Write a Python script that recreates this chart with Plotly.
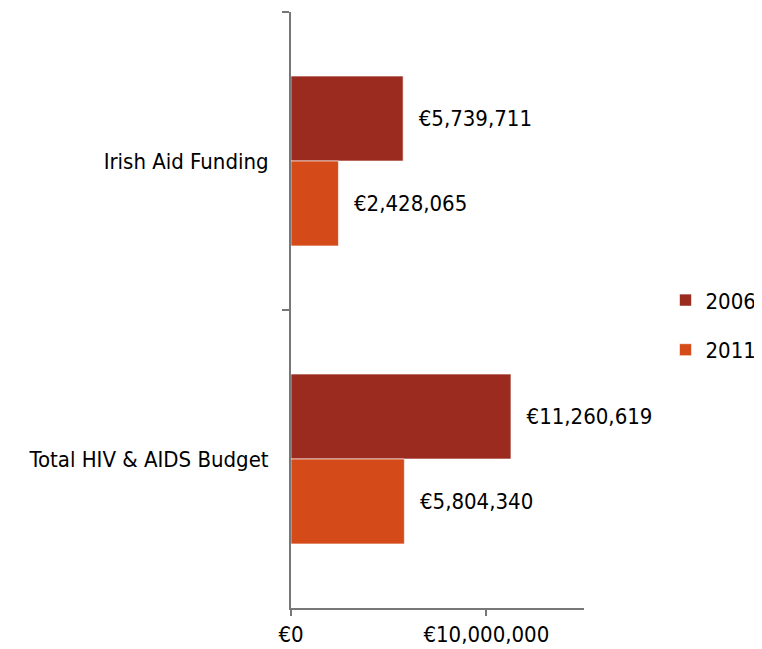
import plotly.graph_objects as go

categories = ["Irish Aid Funding", "Total HIV & AIDS Budget"]
years = ["2006", "2011"]
values_2006 = [5739711, 11260619]
values_2011 = [2428065, 5804340]
x_tickvals = [0, 10000000]
x_ticktext = ["€0", "€10,000,000"]
colors = {"2006": "#9B2B1F", "2011": "#D44B19"}

FONT = "DejaVu Sans Condensed, sans-serif"

fig = go.Figure()
for yr, vals in zip(years, [values_2006, values_2011]):
    fig.add_trace(go.Bar(
        y=categories, x=vals, orientation="h", name=yr,
        legendgroup=yr,
        marker=dict(color=colors[yr], line=dict(color="rgba(255,255,255,0.6)", width=1)),
        text=[f"€{v:,}" for v in vals],
        texttemplate="  %{text}",
        textposition="outside",
        textfont=dict(family=FONT, size=22, color="#000000"),
        cliponaxis=False,
    ))

fig.update_layout(
    width=754, height=641,
    margin=dict(l=283, r=178, t=4, b=41, autoexpand=False),
    paper_bgcolor="white", plot_bgcolor="white",
    barmode="group", bargap=0.43, bargroupgap=0,
    font=dict(family=FONT, size=22, color="#000000"),
    showlegend=True,
    legend=dict(xref="container", yref="container", x=0.872, y=0.505,
                xanchor="left", yanchor="middle",
                font=dict(family=FONT, size=22), tracegroupgap=18,
                itemwidth=30, bgcolor="rgba(0,0,0,0)"),
    xaxis=dict(range=[0, 15000000], tickvals=x_tickvals, ticktext=x_ticktext,
               showgrid=False, zeroline=False, showline=True, linecolor="#777777",
               linewidth=2, ticks="outside", ticklen=6, tickcolor="#777777", tickwidth=2,
               tickfont=dict(family=FONT, size=22)),
    yaxis=dict(autorange="reversed", showgrid=False, zeroline=False, showline=True,
               linecolor="#777777", linewidth=2, ticks="outside", tickson="boundaries",
               ticklen=7, tickcolor="#777777", tickwidth=2, ticklabelstandoff=16,
               tickfont=dict(family=FONT, size=22)),
)

fig.write_html("out.html")
